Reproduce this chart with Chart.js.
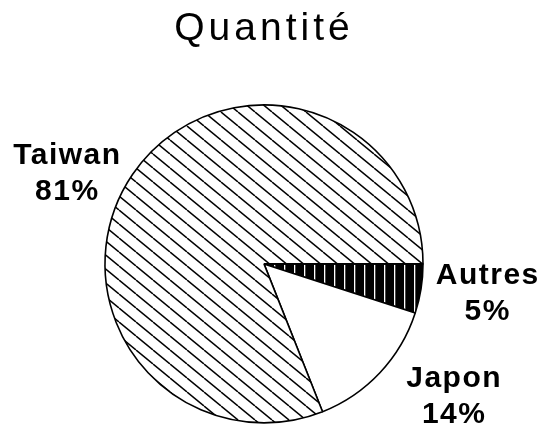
<!DOCTYPE html>
<html>
<head>
<meta charset="utf-8">
<script src="https://cdn.jsdelivr.net/npm/chart.js@4"></script>
<style>
    html, body { margin: 0; padding: 0; background: #fff; }
    #wrap { width: 546px; height: 426px; }
</style>
</head>
<body>
<div id="wrap"><canvas id="pie"></canvas></div>
<script>
// data, in drawing order starting at 3 o'clock, clockwise
const categories = ['Autres', 'Japon', 'Taiwan'];
const shares = [5, 14, 81];
const chartTitle = 'Quantité';

// hatch fills built on small offscreen tiles
const makeTile = (w, h, paint) => {
    const c = document.createElement('canvas');
    c.width = w;
    c.height = h;
    paint(c.getContext('2d'), w, h);
    return document.createElement('canvas').getContext('2d').createPattern(c, 'repeat');
};

// Taiwan: thin back-slash lines
const diagHatch = makeTile(17, 14, (g, w, h) => {
    g.fillStyle = '#fff';
    g.fillRect(0, 0, w, h);
    g.strokeStyle = '#000';
    g.lineWidth = 1.5;
    for (let k = -1; k <= 1; k++) {
        g.beginPath();
        g.moveTo(k * w, 0);
        g.lineTo(k * w + w, h);
        g.stroke();
    }
});

// Autres: black with thin white vertical gaps
const barHatch = makeTile(10, 10, (g, w, h) => {
    g.fillStyle = '#000';
    g.fillRect(0, 0, w, h);
    g.fillStyle = '#fff';
    g.fillRect(4, 0, 1.3, h);
});

const fills = [barHatch, '#fff', diagHatch];

// outside labels: name + percent, placed from each arc's own geometry
const sliceLabels = {
    id: 'sliceLabels',
    afterDatasetsDraw(chart, args, opts) {
        const ctx = chart.ctx;
        const meta = chart.getDatasetMeta(0);
        ctx.save();
        ctx.font = opts.font;
        ctx.letterSpacing = opts.spacing;
        ctx.fillStyle = '#000';
        ctx.textAlign = 'center';
        ctx.textBaseline = 'middle';
        meta.data.forEach((arc, i) => {
            const p = arc.getProps(['x', 'y', 'startAngle', 'endAngle', 'outerRadius'], true);
            const ang = (p.startAngle + p.endAngle) / 2 + opts.nudge[i] * Math.PI / 180;
            const dist = p.outerRadius * opts.reach[i];
            const cx = p.x + Math.cos(ang) * dist;
            const cy = p.y + Math.sin(ang) * dist;
            ctx.fillText(chart.data.labels[i], cx, cy - opts.lineGap / 2);
            ctx.fillText(chart.data.datasets[0].data[i] + '%', cx, cy + opts.lineGap / 2);
        });
        ctx.restore();
    }
};

// spaced-out title letters, reset before the slices are painted
const titleSpacing = {
    id: 'titleSpacing',
    beforeDraw(chart) { chart.ctx.letterSpacing = '4px'; },
    beforeDatasetsDraw(chart) { chart.ctx.letterSpacing = '0px'; }
};

new Chart(document.getElementById('pie'), {
    type: 'pie',
    data: {
        labels: categories,
        datasets: [{
            data: shares,
            backgroundColor: fills,
            borderColor: '#000',
            borderWidth: 1.6,
            hoverOffset: 0
        }]
    },
    options: {
        responsive: true,
        maintainAspectRatio: false,
        animation: false,
        events: [],
        rotation: 90,
        radius: 159,
        layout: { padding: { left: 0, right: 18, top: 0, bottom: 1 } },
        plugins: {
            legend: { display: false },
            tooltip: { enabled: false },
            title: {
                display: true,
                text: chartTitle,
                fullSize: false,
                color: '#000',
                font: { family: '"Liberation Sans", Arial, sans-serif', size: 39, weight: 'normal' },
                padding: { top: 6, bottom: 50 }
            },
            sliceLabels: {
                font: 'bold 30px "Liberation Sans", Arial, sans-serif',
                spacing: '1.5px',
                lineGap: 36,
                nudge: [-1.4, -8.2, -9.6],
                reach: [1.42, 1.46, 1.36]
            }
        }
    },
    plugins: [titleSpacing, sliceLabels]
});
</script>
</body>
</html>
